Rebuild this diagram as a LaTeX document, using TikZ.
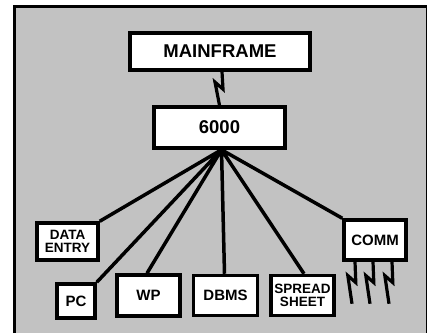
\documentclass[tikz,border=0pt]{standalone}
\usepackage{fontspec}
\setmainfont{Liberation Sans}
\usetikzlibrary{positioning, calc}
\tikzset{
box/.style={draw, line width=3.5pt, fill=white, align=center, inner sep=0pt}, % white boxes with heavy borders
big/.style={font=\fontsize{18.5}{18.5}\selectfont\bfseries}, % text of the two top boxes
small/.style={font=\fontsize{15}{15}\selectfont\bfseries}, % one-line labels of the bottom row
twoline/.style={font=\fontsize{13.5}{13.5}\selectfont\bfseries}, % two-line labels
link/.style={line width=3.5pt}, % the fan of lines out of the 6000
bolt/.style={line width=3.2pt, miter limit=10,
  to path={-- ($(\tikztostart)!0.4!(\tikztotarget)+(2,4)$)
           -- ($(\tikztostart)!0.4!(\tikztotarget)+(-6,-3)$)
           -- (\tikztotarget)}}, % lightning symbol of a remote link
}

\begin{document}
\begin{tikzpicture}[x=1pt, y=-1pt]
    \useasboundingbox (0,0) rectangle (428,333);
    % grey panel with its frame
    \fill[black!24] (13,5) rectangle (427,333);
    \draw[line width=3pt] (14.5,333) -- (14.5,6) -- (426,6);
    \draw[line width=1.5pt] (426.5,5) -- (426.5,333);

    \node[box, big, minimum width=180pt, minimum height=37pt] (main) at (220,51.5) {MAINFRAME};
    \node[box, big, minimum width=131pt, minimum height=41pt] (sys) at (219.5,127.5) {6000};
    \node[box, twoline, minimum width=61pt, minimum height=37pt] (entry) at (67.5,241.5) {DATA\\ENTRY};
    \node[box, small, minimum width=38pt, minimum height=34pt] (pc) at (76,301) {PC};
    \node[box, small, minimum width=63pt, minimum height=41pt] (wp) at (148.5,295.5) {WP};
    \node[box, small, minimum width=64pt, minimum height=40pt, right=10pt of wp] (dbms) {DBMS};
    \node[box, twoline, minimum width=63pt, minimum height=40pt, right=10pt of dbms] (sheet) {SPREAD\\SHEET};
    \node[box, small, minimum width=62pt, minimum height=40pt] (comm) at (375,240) {COMM};

    \coordinate (fan) at ([xshift=2pt]sys.south);
    \draw[link]
    (fan) -- (entry.north east)
    (fan) -- (pc.north east)
    (fan) -- ([xshift=-1.5pt]wp.north)
    (fan) -- ([xshift=-1pt]dbms.north)
    (fan) -- ([xshift=1.5pt]sheet.north)
    (fan) -- (comm.north west);

    \draw[bolt] ([xshift=2pt]main.south) to ([xshift=0pt]sys.north);
    \foreach \dx in {-20,-2,17} {
      \coordinate (end\dx) at ([xshift=\dx pt-3pt, yshift=-42pt]comm.south);
      \draw[bolt] ([xshift=\dx pt]comm.south) to (end\dx);
    }
\end{tikzpicture}
\end{document}
